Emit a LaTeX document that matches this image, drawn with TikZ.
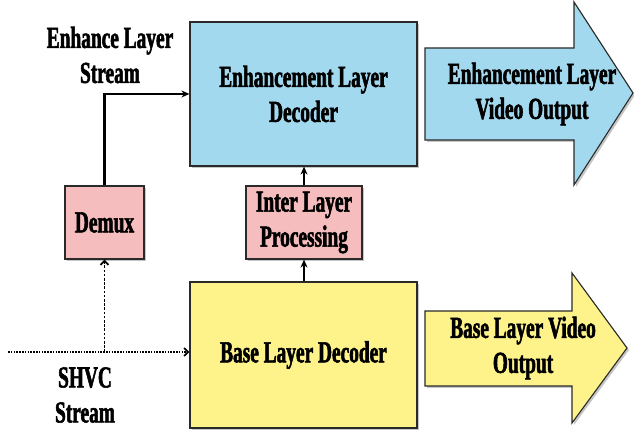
\documentclass[tikz,border=0pt]{standalone}
\usepackage{fontspec}
\newfontfamily\lbl{Liberation Serif}[FakeStretch=0.635, BoldFeatures={FakeBold=1.8}]
\usetikzlibrary{arrows.meta,shadows}
\definecolor{enhblue}{HTML}{A3D9EF}
\definecolor{baseyel}{HTML}{FEF38B}
\definecolor{procpink}{HTML}{F5BDBD}
\definecolor{edge}{HTML}{2A2A2A}
\tikzset{
  x=1pt, y=1pt,
  txt/.style={font=\lbl\bfseries\fontsize{30.5}{35}\selectfont, align=center, text=black},
  shad/.style={drop shadow={shadow xshift=2pt, shadow yshift=-2pt, opacity=0.45, fill=gray}},
  blockbox/.style={draw=edge, line width=1.2pt, shad, txt, inner sep=0pt},
  outarrow/.style={draw=edge, line width=1.1pt, shad},
  link/.style={line width=2.2pt, -{Stealth[length=8pt,width=7pt]}},
  dotlink/.style={line width=1.8pt, -{Straight Barb[length=4pt,width=8pt]}},
}
\begin{document}
\begin{tikzpicture}
\useasboundingbox (0,0) rectangle (634,433);

% decoder and processing blocks
\node[blockbox, fill=enhblue, minimum width=227pt, minimum height=144pt] (eld) at (303.5,339) {Enhancement Layer\\Decoder};
\node[blockbox, fill=baseyel, minimum width=227pt, minimum height=146pt] (bld) at (303.5,78) {Base Layer Decoder};
\node[blockbox, fill=procpink, minimum width=79pt, minimum height=73pt] (demux) at (104.5,210.5) {Demux};
\node[blockbox, fill=procpink, minimum width=116pt, minimum height=73pt] (ilp) at (304,210.5) {Inter Layer\\Processing};

% output arrows
\draw[outarrow, fill=enhblue] (425,385) -- (574,385) -- (574,431) -- (633,340) -- (574,248) -- (574,293) -- (425,293) -- cycle;
\node[txt] (eout) at (532,339) {Enhancement Layer\\Video Output};
\draw[outarrow, fill=baseyel] (425,122) -- (572,122) -- (572,160) -- (627,85) -- (572,10) -- (572,47) -- (425,47) -- cycle;
\node[txt] (bout) at (523,85) {Base Layer Video\\Output};

% stream labels
\node[txt] (elstream) at (110,378) {Enhance Layer\\Stream};
\node[txt] (shvc) at (85,38) {SHVC\\Stream};

% connectors
\draw[link] (demux.north) |- (eld.west);
\draw[link] (ilp.north) -- (ilp.north |- eld.south);
\draw[link] (bld.north -| ilp.north) -- (ilp.south);

\coordinate (sin) at (8,81);
\coordinate (split) at (demux.south |- sin);
\draw[dotlink, dash pattern=on 1.6pt off 1.2pt] (sin) -- (sin -| bld.west);
\draw[dotlink, dash pattern=on 2.6pt off 1.6pt] (split) -- (demux.south);
\end{tikzpicture}
\end{document}
